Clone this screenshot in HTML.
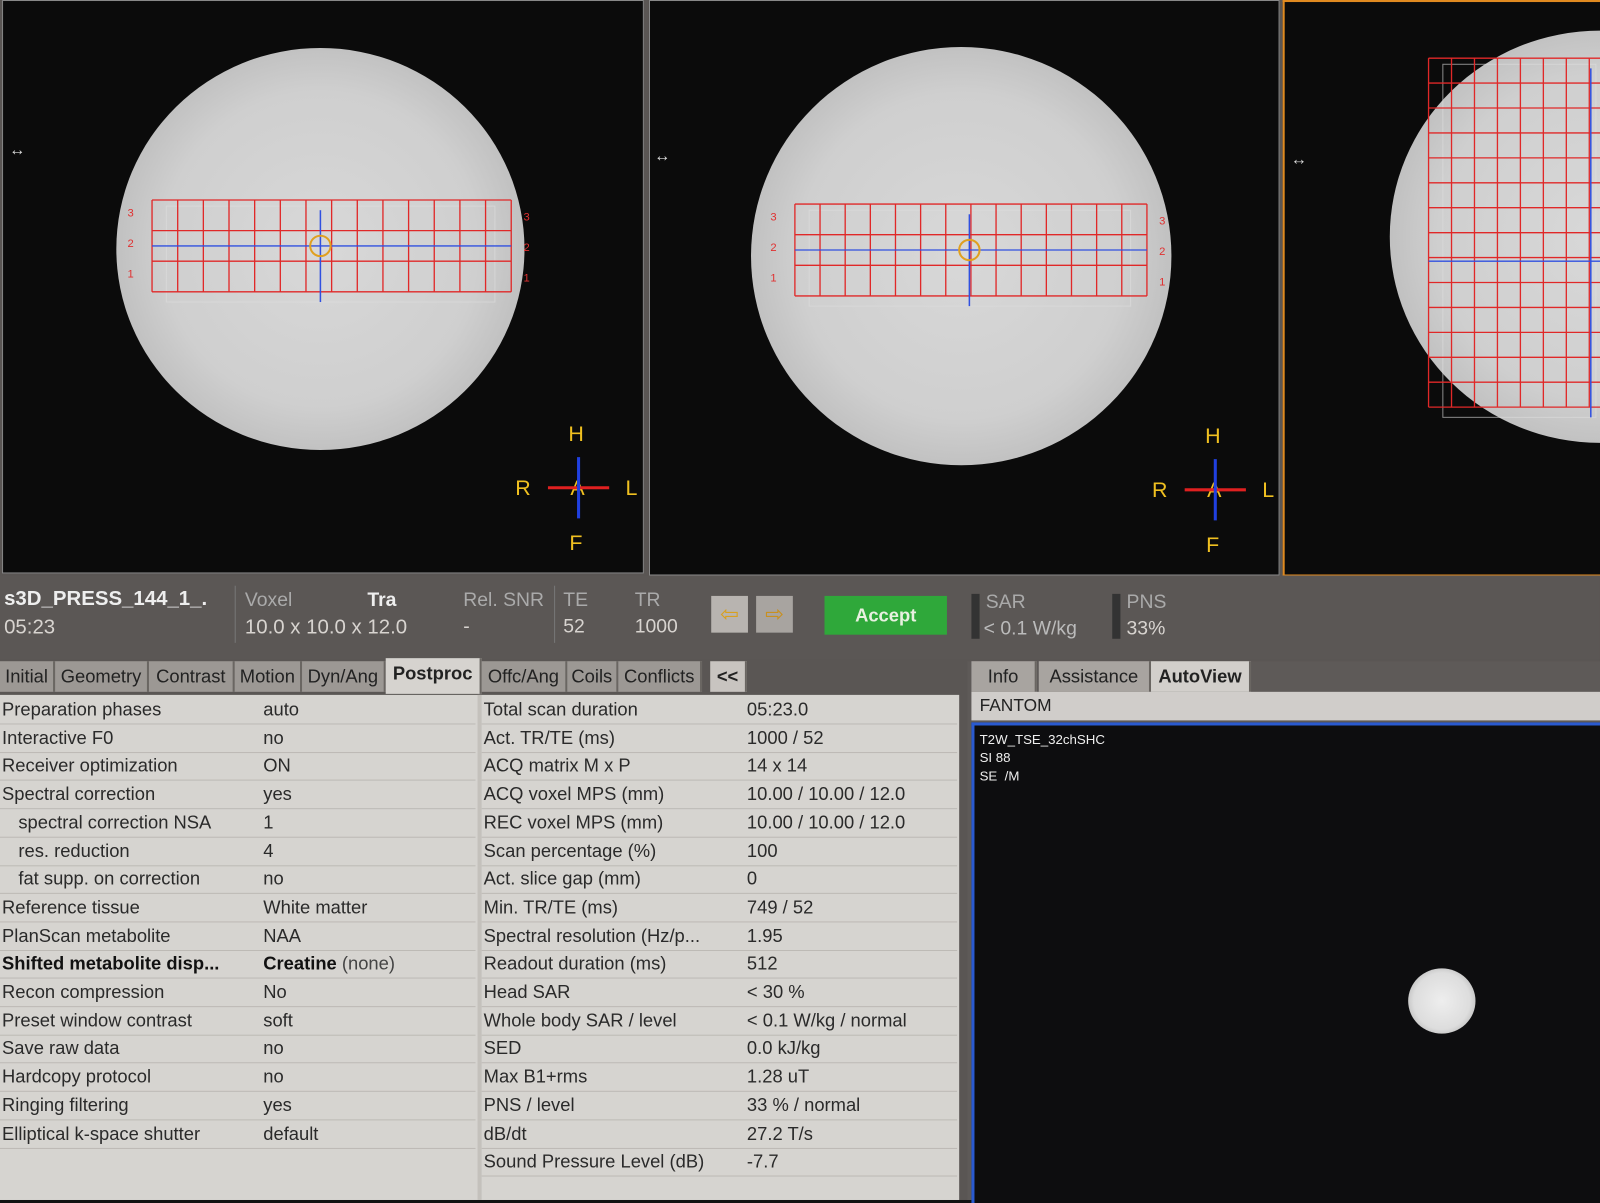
<!DOCTYPE html>
<html><head><meta charset="utf-8">
<style>
html,body{margin:0;padding:0;width:1600px;height:1200px;overflow:hidden;background:#111;}
#wrap{position:absolute;left:0;top:0;width:1568px;height:1176px;transform:scale(1.0204);transform-origin:0 0;font-family:"Liberation Sans",sans-serif;}
.abs{position:absolute;}
.vp{position:absolute;background:#0b0b0b;overflow:hidden;}
.ball{position:absolute;border-radius:50%;background:radial-gradient(circle at 50% 50%,#d8d8d8 0%,#cfcfcf 55%,#b9b9b9 80%,#8c8c8c 100%);}
.ori{position:absolute;color:#f0c020;font-size:21px;}
.tb{color:#d8d4d0;font-size:19px;}
.tab{position:absolute;top:648px;height:30px;background:#9c9894;color:#222;font-size:18px;line-height:30px;text-align:center;border-right:2px solid #6a6662;}
.row{position:absolute;height:27px;line-height:27px;font-size:18px;color:#2a2a2a;white-space:nowrap;border-bottom:1px solid #bdbab5;}
</style></head><body>
<div id="wrap">
<div class="abs" style="left:0;top:0;width:1568px;height:1176px;background:#5a5654"></div>
<!-- viewports -->
<div class="vp" style="left:2px;top:0;width:627px;height:560px;border:1px solid #888;">
 <div class="ball" style="left:111px;top:46px;width:400px;height:394px;"></div>
 <svg class="abs" style="left:0;top:0" width="627" height="560" id="g1"></svg>
 <div class="ori" style="left:554px;top:413px">H</div><div class="ori" style="left:502px;top:466px">R</div><div class="ori" style="left:610px;top:466px">L</div><div class="ori" style="left:555px;top:520px">F</div><div class="ori" style="left:556px;top:466px">A</div>
 <svg class="abs" style="left:530px;top:445px" width="70" height="65"><line x1="4" y1="32" x2="64" y2="32" stroke="#e02020" stroke-width="3"/><line x1="34" y1="2" x2="34" y2="62" stroke="#2040e0" stroke-width="3"/></svg>
 <div class="abs" style="left:6px;top:138px;color:#ddd;font-size:16px">↔</div>
</div>
<div class="vp" style="left:636px;top:0;width:616px;height:562px;border:1px solid #888;">
 <div class="ball" style="left:99px;top:45px;width:412px;height:410px;"></div>
 <svg class="abs" style="left:0;top:0" width="616" height="562" id="g2"></svg>
 <div class="ori" style="left:544px;top:415px">H</div><div class="ori" style="left:492px;top:468px">R</div><div class="ori" style="left:600px;top:468px">L</div><div class="ori" style="left:545px;top:522px">F</div><div class="ori" style="left:546px;top:468px">A</div>
 <svg class="abs" style="left:520px;top:447px" width="70" height="65"><line x1="4" y1="32" x2="64" y2="32" stroke="#e02020" stroke-width="3"/><line x1="34" y1="2" x2="34" y2="62" stroke="#2040e0" stroke-width="3"/></svg>
 <div class="abs" style="left:4px;top:144px;color:#ddd;font-size:16px">↔</div>
</div>
<div class="vp" style="left:1257px;top:0;width:311px;height:561px;border:2px solid #e08a20;border-right:none;">
 <div class="ball" style="left:103px;top:28px;width:412px;height:404px;"></div>
 <svg class="abs" style="left:0;top:0" width="311" height="561" id="g3"></svg>
 <div class="abs" style="left:6px;top:146px;color:#ddd;font-size:16px">↔</div>
</div>
<!-- toolbar -->
<div class="abs" style="left:0;top:564px;width:1568px;height:82px;background:#5b5755">
 <div class="abs tb" style="left:4px;top:12px;font-weight:bold;font-size:20px;color:#eee">s3D_PRESS_144_1_.</div>
 <div class="abs tb" style="left:4px;top:40px;font-size:20px">05:23</div>
 <div class="abs" style="left:230px;top:10px;width:1px;height:56px;background:#777"></div>
 <div class="abs tb" style="left:240px;top:14px;color:#aaa">Voxel</div>
 <div class="abs tb" style="left:360px;top:14px;font-weight:bold;color:#eee">Tra</div>
 <div class="abs tb" style="left:240px;top:40px;font-size:20px">10.0 x 10.0 x 12.0</div>
 <div class="abs tb" style="left:454px;top:14px;color:#aaa">Rel. SNR</div>
 <div class="abs tb" style="left:454px;top:40px">-</div>
 <div class="abs" style="left:543px;top:10px;width:1px;height:56px;background:#777"></div>
 <div class="abs tb" style="left:552px;top:14px;color:#aaa">TE</div><div class="abs tb" style="left:552px;top:40px">52</div>
 <div class="abs tb" style="left:622px;top:14px;color:#aaa">TR</div><div class="abs tb" style="left:622px;top:40px">1000</div>
 <div class="abs" style="left:697px;top:20px;width:36px;height:36px;background:#b8b4b0;color:#d8a020;font-size:22px;text-align:center;line-height:36px">⇦</div>
 <div class="abs" style="left:741px;top:20px;width:36px;height:36px;background:#a8a4a0;color:#c89020;font-size:22px;text-align:center;line-height:36px">⇨</div>
 <div class="abs" style="left:808px;top:20px;width:120px;height:38px;background:#2fa83a;color:#e8f0e0;font-weight:bold;font-size:18px;text-align:center;line-height:38px">Accept</div>
 <div class="abs" style="left:952px;top:18px;width:8px;height:44px;background:#333"></div>
 <div class="abs tb" style="left:966px;top:16px;color:#aaa">SAR</div><div class="abs tb" style="left:964px;top:42px;color:#bbb">&lt; 0.1 W/kg</div>
 <div class="abs" style="left:1090px;top:18px;width:8px;height:44px;background:#333"></div>
 <div class="abs tb" style="left:1104px;top:16px;color:#aaa">PNS</div><div class="abs tb" style="left:1104px;top:42px">33%</div>
</div>
<!-- tabs -->
<div class="tab" style="left:0;width:52px">Initial</div>
<div class="tab" style="left:54px;width:90px">Geometry</div>
<div class="tab" style="left:146px;width:82px">Contrast</div>
<div class="tab" style="left:230px;width:64px">Motion</div>
<div class="tab" style="left:296px;width:80px">Dyn/Ang</div>
<div class="tab" style="left:378px;width:92px;background:#d6d3cf;font-weight:bold;top:645px;height:35px">Postproc</div>
<div class="tab" style="left:472px;width:82px">Offc/Ang</div>
<div class="tab" style="left:556px;width:48px">Coils</div>
<div class="tab" style="left:606px;width:80px">Conflicts</div>
<div class="tab" style="left:696px;width:34px;background:#c8c4c0;font-weight:bold">&lt;&lt;</div>
<!-- parameter tables -->
<div class="abs" style="left:0;top:681px;width:940px;height:495px;background:#d6d4d0" id="tbl"></div>
<!-- right panel -->
<div class="abs" style="left:948px;top:648px;width:620px;height:528px;background:#5e5a58"></div>
<div class="tab" style="left:952px;width:62px;background:#a8a4a0">Info</div>
<div class="tab" style="left:1018px;width:108px;background:#a8a4a0">Assistance</div>
<div class="tab" style="left:1128px;width:96px;background:#d2cfcb;font-weight:bold">AutoView</div>
<div class="abs" style="left:952px;top:678px;width:616px;height:28px;background:#d0cdca;color:#222;font-size:17px;line-height:28px;padding-left:8px">FANTOM</div>
<div class="abs" style="left:952px;top:708px;width:616px;height:468px;background:#0d0d0f;border-left:3px solid #2a5ad0;border-top:3px solid #2a5ad0">
 <div class="abs" style="left:5px;top:5px;color:#eee;font-size:13px;line-height:18px">T2W_TSE_32chSHC<br>SI 88<br>SE &nbsp;/M</div>
 <div class="abs" style="left:425px;top:238px;width:66px;height:64px;border-radius:50%;background:radial-gradient(circle,#eee 0%,#ddd 60%,#999 100%)"></div>
</div>
</div>
<script>
const leftLabels=["Preparation phases","Interactive F0","Receiver optimization","Spectral correction","  spectral correction NSA","  res. reduction","  fat supp. on correction","Reference tissue","PlanScan metabolite","Shifted metabolite disp...","Recon compression","Preset window contrast","Save raw data","Hardcopy protocol","Ringing filtering","Elliptical k-space shutter"];
const leftValues=["auto","no","ON","yes","1","4","no","White matter","NAA","Creatine  (none)","No","soft","no","no","yes","default"];
const midLabels=["Total scan duration","Act. TR/TE (ms)","ACQ matrix M x P","ACQ voxel MPS (mm)","REC voxel MPS (mm)","Scan percentage (%)","Act. slice gap (mm)","Min. TR/TE (ms)","Spectral resolution (Hz/p...","Readout duration (ms)","Head SAR","Whole body SAR / level","SED","Max B1+rms","PNS / level","dB/dt","Sound Pressure Level (dB)"];
const midValues=["05:23.0","1000 / 52","14 x 14","10.00 / 10.00 / 12.0","10.00 / 10.00 / 12.0","100","0","749 / 52","1.95","512","< 30 %","< 0.1 W/kg / normal"," 0.0 kJ/kg","1.28 uT","33 % / normal","27.2 T/s","-7.7"];
const tbl=document.getElementById('tbl');
const RH=27.7;
function esc(s){return s.replace(/&/g,'&amp;').replace(/</g,'&lt;');}
function addRow(x,w,i,lab,val,vx){
 const r=document.createElement('div');r.className='row';
 
 
 r.style.left=x+'px';r.style.top=(i*RH+1)+'px';r.style.width=w+'px';
 const bold=lab.startsWith('Shifted');
 const ind=lab.startsWith('  ');
 const b=bold?'font-weight:bold;color:#111;':'';
 let v=esc(val).replace('(none)','<span style="font-weight:normal;color:#444">(none)</span>');
 r.innerHTML='<span style="position:absolute;left:'+(ind?18:2)+'px;'+b+'">'+esc(lab.trim())+'</span><span style="position:absolute;left:'+vx+'px;'+b+'">'+v+'</span>';
 tbl.appendChild(r);
}
leftLabels.forEach((l,i)=>addRow(0,466,i,l,leftValues[i],258));
midLabels.forEach((l,i)=>addRow(472,466,i,l,midValues[i],260));
const mid=document.createElement('div');mid.style.cssText='position:absolute;left:468px;top:0;width:4px;height:495px;background:#c4c1bc';tbl.appendChild(mid);
function grid(id,x0,y0,w,h,cols,rows,cx,cy,marks){
 const s=document.getElementById(id);let o='';
 o+=`<rect x="${x0+14}" y="${y0+6}" width="${w-30}" height="${h+4}" fill="none" stroke="#ddd" stroke-width="1" opacity="0.6"/>`;
 for(let i=0;i<=cols;i++){const x=x0+w*i/cols;o+=`<line x1="${x}" y1="${y0}" x2="${x}" y2="${y0+h}" stroke="#e02828" stroke-width="1.3"/>`;}
 for(let j=0;j<=rows;j++){const y=y0+h*j/rows;o+=`<line x1="${x0}" y1="${y}" x2="${x0+w}" y2="${y}" stroke="#e02828" stroke-width="1.3"/>`;}
 o+=`<line x1="${x0}" y1="${cy}" x2="${x0+w}" y2="${cy}" stroke="#3050e0" stroke-width="1.3"/>`;
 o+=`<line x1="${cx}" y1="${y0+10}" x2="${cx}" y2="${y0+h+10}" stroke="#3050e0" stroke-width="1.5"/>`;
 if(marks){o+=`<circle cx="${cx}" cy="${cy}" r="10" fill="none" stroke="#e0a020" stroke-width="2"/>`;
 ['3','2','1'].forEach((t,k)=>{o+=`<text x="${x0-24}" y="${y0+16+k*30}" fill="#e03030" font-size="11">${t}</text><text x="${x0+w+12}" y="${y0+20+k*30}" fill="#e03030" font-size="11">${t}</text>`;});}
 s.innerHTML=o;
}
grid('g1',146,195,352,90,14,3,311,240,true);
grid('g2',142,199,345,90,14,3,313,244,true);
grid('g3',141,55,180,342,8,14,300,254,false);
</script>
</body></html>
